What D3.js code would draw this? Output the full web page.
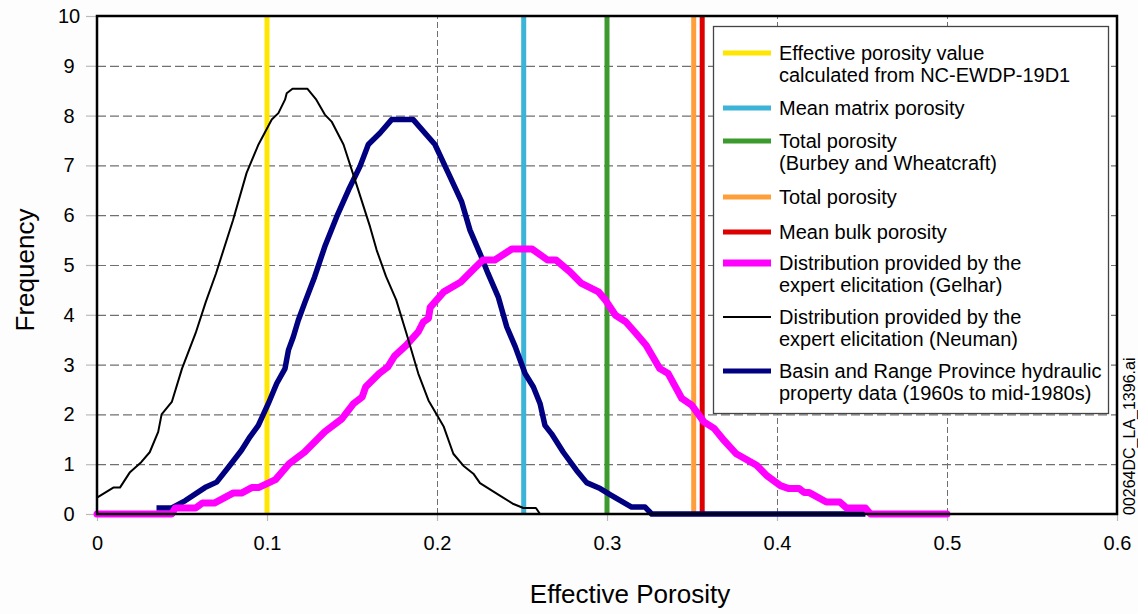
<!DOCTYPE html>
<html>
<head>
<meta charset="utf-8">
<script src="https://cdn.jsdelivr.net/npm/d3@7/dist/d3.min.js"></script>
<style>
  html, body { margin: 0; padding: 0; background: #fdfdfd; }
  svg { display: block; font-family: "Liberation Sans", Arial, Helvetica, sans-serif; }
</style>
</head>
<body>
<svg id="chart" width="1138" height="614"></svg>
<script>
// Axis ticks
const xTicks = [0, 0.1, 0.2, 0.3, 0.4, 0.5, 0.6];
const yTicks = [0, 1, 2, 3, 4, 5, 6, 7, 8, 9, 10];

// Single porosity values drawn as vertical reference lines
const refNames = ["Effective porosity value calculated from NC-EWDP-19D1", "Mean matrix porosity",
  "Total porosity (Burbey and Wheatcraft)", "Total porosity", "Mean bulk porosity"];
const refValues = [0.1, 0.251, 0.3, 0.351, 0.356];
const refColors = ["#ffe600", "#3bb4d8", "#3c9a2e", "#ff9f3c", "#dd0000"];

// Distribution provided by the expert elicitation (Gelhar) — [porosity, frequency]
const gelhar = [
  [0, 0], [0.044, 0], [0.046, 0.12], [0.058, 0.12], [0.062, 0.22], [0.069, 0.22],
  [0.080, 0.42], [0.085, 0.42], [0.091, 0.53], [0.095, 0.53], [0.105, 0.69],
  [0.113, 1.01], [0.122, 1.24], [0.134, 1.65], [0.144, 1.91], [0.151, 2.22],
  [0.156, 2.35], [0.158, 2.55], [0.166, 2.82], [0.171, 2.95], [0.175, 3.17],
  [0.182, 3.39], [0.189, 3.66], [0.192, 3.86], [0.195, 3.93], [0.196, 4.15],
  [0.204, 4.46], [0.214, 4.66], [0.221, 4.9], [0.227, 5.1], [0.234, 5.1],
  [0.244, 5.32], [0.256, 5.32], [0.265, 5.1], [0.270, 5.1], [0.278, 4.87],
  [0.285, 4.63], [0.295, 4.46], [0.299, 4.3], [0.305, 3.99], [0.311, 3.86],
  [0.317, 3.63], [0.323, 3.39], [0.331, 2.92], [0.336, 2.82], [0.344, 2.32],
  [0.350, 2.18], [0.357, 1.85], [0.363, 1.72], [0.368, 1.51], [0.376, 1.21],
  [0.388, 0.98], [0.394, 0.77], [0.402, 0.57], [0.407, 0.51], [0.413, 0.51],
  [0.416, 0.43], [0.419, 0.43], [0.429, 0.24], [0.437, 0.24], [0.441, 0.12],
  [0.452, 0.12], [0.455, 0], [0.5, 0]
];

// Distribution provided by the expert elicitation (Neuman)
const neuman = [
  [0, 0.33], [0.0096, 0.53], [0.0135, 0.53], [0.0194, 0.84], [0.026, 1.04],
  [0.031, 1.24], [0.036, 1.65], [0.038, 2.0], [0.044, 2.25], [0.050, 2.92],
  [0.058, 3.63], [0.064, 4.26], [0.070, 4.83], [0.080, 5.9], [0.088, 6.85],
  [0.095, 7.42], [0.1028, 7.92], [0.1067, 8.05], [0.1106, 8.32], [0.1116, 8.45],
  [0.115, 8.54], [0.1237, 8.54], [0.129, 8.32], [0.134, 8.02], [0.138, 7.88],
  [0.145, 7.42], [0.153, 6.58], [0.1606, 5.77], [0.1645, 5.3], [0.170, 4.77],
  [0.176, 4.3], [0.182, 3.63], [0.189, 2.82], [0.195, 2.28], [0.204, 1.75],
  [0.2096, 1.21], [0.2155, 0.97], [0.2214, 0.81], [0.2253, 0.62], [0.237, 0.37],
  [0.245, 0.2], [0.2508, 0.12], [0.2582, 0.12], [0.2606, 0], [0.33, 0]
];

// Basin and Range Province hydraulic property data (1960s to mid-1980s)
const basinRange = [
  [0.035, 0.12], [0.044, 0.12], [0.052, 0.27], [0.0635, 0.53], [0.0704, 0.64],
  [0.0773, 0.94], [0.085, 1.28], [0.090, 1.55], [0.0949, 1.78], [0.1008, 2.22],
  [0.1057, 2.62], [0.1106, 2.92], [0.1126, 3.29], [0.1155, 3.56], [0.1184, 3.89],
  [0.1224, 4.26], [0.128, 4.76], [0.134, 5.37], [0.141, 5.97], [0.148, 6.51],
  [0.1547, 6.98], [0.1596, 7.42], [0.1665, 7.65], [0.1733, 7.92], [0.186, 7.92],
  [0.1988, 7.42], [0.2066, 6.85], [0.2145, 6.27], [0.2194, 5.7], [0.2253, 5.23],
  [0.230, 4.83], [0.236, 4.36], [0.241, 3.76], [0.246, 3.36], [0.2518, 2.82],
  [0.2567, 2.55], [0.2606, 2.22], [0.2635, 1.78], [0.2674, 1.61], [0.2743, 1.24],
  [0.282, 0.88], [0.288, 0.63], [0.296, 0.51], [0.3018, 0.39], [0.3145, 0.14],
  [0.3224, 0.14], [0.3263, 0], [0.452, 0]
];

const svg = d3.select("#chart");
const W = 1138, H = 614;
svg.append("rect").attr("width", W).attr("height", H).attr("fill", "#fdfdfd");

const x = d3.scaleLinear().domain([0, 0.6]).range([97, 1117]);
const y = d3.scaleLinear().domain([0, 10]).range([514, 16]);

// Plot background
svg.append("rect")
  .attr("x", x(0)).attr("y", y(10))
  .attr("width", x(0.6) - x(0)).attr("height", y(0) - y(10))
  .attr("fill", "#ffffff");

// Horizontal gridlines
svg.append("g")
  .attr("transform", `translate(${x(0)},0)`)
  .call(d3.axisLeft(y).tickValues(yTicks.slice(1, -1)).tickSize(-(x(0.6) - x(0))).tickFormat(""))
  .call(g => g.select(".domain").remove())
  .call(g => g.selectAll("line").attr("stroke", "#707070").attr("stroke-width", 1.2)
    .attr("stroke-dasharray", "9,4"));

// Vertical gridlines
svg.append("g")
  .attr("transform", `translate(0,${y(0)})`)
  .call(d3.axisBottom(x).tickValues(xTicks.slice(1, -1)).tickSize(-(y(0) - y(10))).tickFormat(""))
  .call(g => g.select(".domain").remove())
  .call(g => g.selectAll("line").attr("stroke", "#707070").attr("stroke-width", 1)
    .attr("stroke-dasharray", "6,3"));

// Y axis ticks and labels
svg.append("g")
  .attr("transform", `translate(${x(0)},0)`)
  .call(d3.axisLeft(y).tickValues(yTicks).tickSize(11).tickPadding(0).tickFormat(d3.format("d")))
  .call(g => g.select(".domain").remove())
  .call(g => g.selectAll("line").attr("stroke", "#bbbbbb").attr("stroke-width", 1.2))
  .call(g => g.selectAll("text")
    .attr("x", 69 - x(0)).attr("text-anchor", "middle")
    .attr("font-size", 20).attr("fill", "#000")
    .attr("font-family", "'Liberation Sans', Arial, sans-serif"));

// X axis ticks and labels
svg.append("g")
  .attr("transform", `translate(0,${y(0)})`)
  .call(d3.axisBottom(x).tickValues(xTicks).tickSize(7).tickPadding(15)
    .tickFormat(d => d === 0 ? "0" : d3.format(".1f")(d)))
  .call(g => g.select(".domain").remove())
  .call(g => g.selectAll("line").attr("stroke", "#bbbbbb").attr("stroke-width", 1.2))
  .call(g => g.selectAll("text")
    .attr("font-size", 20).attr("fill", "#000")
    .attr("font-family", "'Liberation Sans', Arial, sans-serif"));

// Vertical reference lines
svg.append("g").selectAll("line")
  .data(refValues)
  .join("line")
  .attr("x1", d => x(d)).attr("x2", d => x(d))
  .attr("y1", y(0) + 1).attr("y2", y(10))
  .attr("stroke", (d, i) => refColors[i])
  .attr("stroke-width", 5);

const line = d3.line().x(d => x(d[0])).y(d => y(d[1]));

svg.append("path").datum(basinRange)
  .attr("d", line).attr("fill", "none")
  .attr("stroke", "#000080").attr("stroke-width", 5.5)
  .attr("stroke-linejoin", "round");

svg.append("path").datum(gelhar)
  .attr("d", line).attr("fill", "none")
  .attr("stroke", "#ff00ff").attr("stroke-width", 7)
  .attr("stroke-linejoin", "round").attr("stroke-linecap", "round");

svg.append("path").datum(neuman)
  .attr("d", line).attr("fill", "none")
  .attr("stroke", "#000000").attr("stroke-width", 2)
  .attr("stroke-linejoin", "round");

// Plot frame
svg.append("rect")
  .attr("x", x(0)).attr("y", y(10))
  .attr("width", x(0.6) - x(0)).attr("height", y(0) - y(10))
  .attr("fill", "none").attr("stroke", "#000").attr("stroke-width", 2.5);

// Legend
const legendItems = [
  { lines: ["Effective porosity value", "calculated from NC-EWDP-19D1"], color: refColors[0], w: 5, cy: 53 },
  { lines: ["Mean matrix porosity"], color: refColors[1], w: 5, cy: 108 },
  { lines: ["Total porosity", "(Burbey and Wheatcraft)"], color: refColors[2], w: 5, cy: 141 },
  { lines: ["Total porosity"], color: refColors[3], w: 5, cy: 197 },
  { lines: ["Mean bulk porosity"], color: refColors[4], w: 5, cy: 232 },
  { lines: ["Distribution provided by the", "expert elicitation (Gelhar)"], color: "#ff00ff", w: 7, cy: 263 },
  { lines: ["Distribution provided by the", "expert elicitation (Neuman)"], color: "#000000", w: 2, cy: 317 },
  { lines: ["Basin and Range Province hydraulic", "property data (1960s to mid-1980s)"], color: "#000080", w: 5, cy: 371 }
];

const legend = svg.append("g");
legend.append("rect")
  .attr("x", 713.5).attr("y", 26.5).attr("width", 395).attr("height", 387)
  .attr("fill", "#ffffff").attr("stroke", "#444").attr("stroke-width", 1.3);

const entry = legend.selectAll("g.entry").data(legendItems).join("g").attr("class", "entry");
entry.append("line")
  .attr("x1", 723).attr("x2", 771)
  .attr("y1", d => d.cy).attr("y2", d => d.cy)
  .attr("stroke", d => d.color).attr("stroke-width", d => d.w);
entry.each(function (d) {
  const t = d3.select(this).append("text")
    .attr("x", 779).attr("y", d.cy + 7)
    .attr("font-size", 20).attr("fill", "#000");
  d.lines.forEach((s, i) => {
    t.append("tspan").attr("x", 779).attr("dy", i === 0 ? 0 : 22).text(s);
  });
});

// Axis titles
svg.append("text")
  .attr("x", 630).attr("y", 603)
  .attr("text-anchor", "middle").attr("font-size", 26).attr("fill", "#000")
  .text("Effective Porosity");

svg.append("text")
  .attr("transform", `translate(34,270) rotate(-90)`)
  .attr("text-anchor", "middle").attr("font-size", 26).attr("fill", "#000")
  .text("Frequency");

// File reference along the right edge
svg.append("text")
  .attr("transform", `translate(1135,515) rotate(-90)`)
  .attr("text-anchor", "start").attr("font-size", 16).attr("fill", "#000")
  .text("00264DC_LA_1396.ai");
</script>
</body>
</html>
